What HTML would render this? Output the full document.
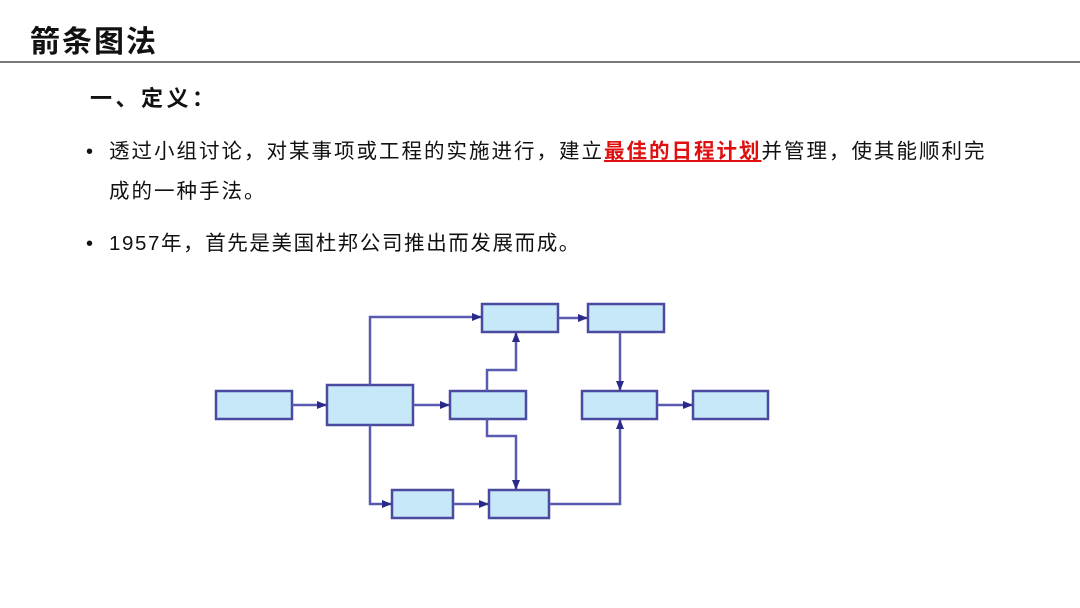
<!DOCTYPE html>
<html><head><meta charset="utf-8"><style>
body{margin:0;width:1080px;height:608px;background:#fff;position:relative;overflow:hidden;font-family:"Liberation Sans","Noto Sans CJK SC",sans-serif;color:#111}
.t{position:absolute;white-space:nowrap}
</style></head><body>
<div class="t" style="left:30px;top:24px;font-size:30px;font-weight:bold;letter-spacing:2px;line-height:38px">箭条图法</div>
<div style="position:absolute;left:0;top:61px;width:1080px;height:2px;background:#7a7a7a"></div>
<div class="t" style="left:90px;top:84px;font-size:22px;font-weight:bold;letter-spacing:3.5px;line-height:30px">一、定义：</div>
<div class="t" style="left:86px;top:138px;font-size:20px;line-height:28px">•</div>
<div class="t" style="left:109px;top:138px;font-size:20.5px;letter-spacing:2px;line-height:28px">透过小组讨论，对某事项或工程的实施进行，建立<b style="color:#e01010;text-decoration:underline">最佳的日程计划</b>并管理，使其能顺利完</div>
<div class="t" style="left:109px;top:178px;font-size:20.5px;letter-spacing:2px;line-height:28px">成的一种手法。</div>
<div class="t" style="left:86px;top:230px;font-size:20px;line-height:28px">•</div>
<div class="t" style="left:109px;top:230px;font-size:20.5px;letter-spacing:1.6px;line-height:28px">1957年，首先是美国杜邦公司推出而发展而成。</div>
<svg width="1080" height="608" style="position:absolute;left:0;top:0">
<defs><marker id="a" markerWidth="10" markerHeight="8" refX="9" refY="4" orient="auto" markerUnits="userSpaceOnUse"><path d="M0,0L10,4L0,8z" fill="#2a2a8a"/></marker></defs>
<g fill="#c6e8f8" stroke="#4a4aa0" stroke-width="2.5">
<rect x="216" y="391" width="76" height="28"/>
<rect x="327" y="385" width="86" height="40"/>
<rect x="450" y="391" width="76" height="28"/>
<rect x="482" y="304" width="76" height="28"/>
<rect x="588" y="304" width="76" height="28"/>
<rect x="582" y="391" width="75" height="28"/>
<rect x="693" y="391" width="75" height="28"/>
<rect x="392" y="490" width="61" height="28"/>
<rect x="489" y="490" width="60" height="28"/>
</g>
<g fill="none" stroke="#5a5ab0" stroke-width="2.5" marker-end="url(#a)">
<path d="M292,405H326"/>
<path d="M413,405H449"/>
<path d="M370,385V317H481"/>
<path d="M370,425V504H391"/>
<path d="M453,504H488"/>
<path d="M558,318H587"/>
<path d="M487,391V370H516V333"/>
<path d="M487,419V436H516V489"/>
<path d="M620,332V390"/>
<path d="M549,504H620V420"/>
<path d="M657,405H692"/>
</g>
</svg>
</body></html>
